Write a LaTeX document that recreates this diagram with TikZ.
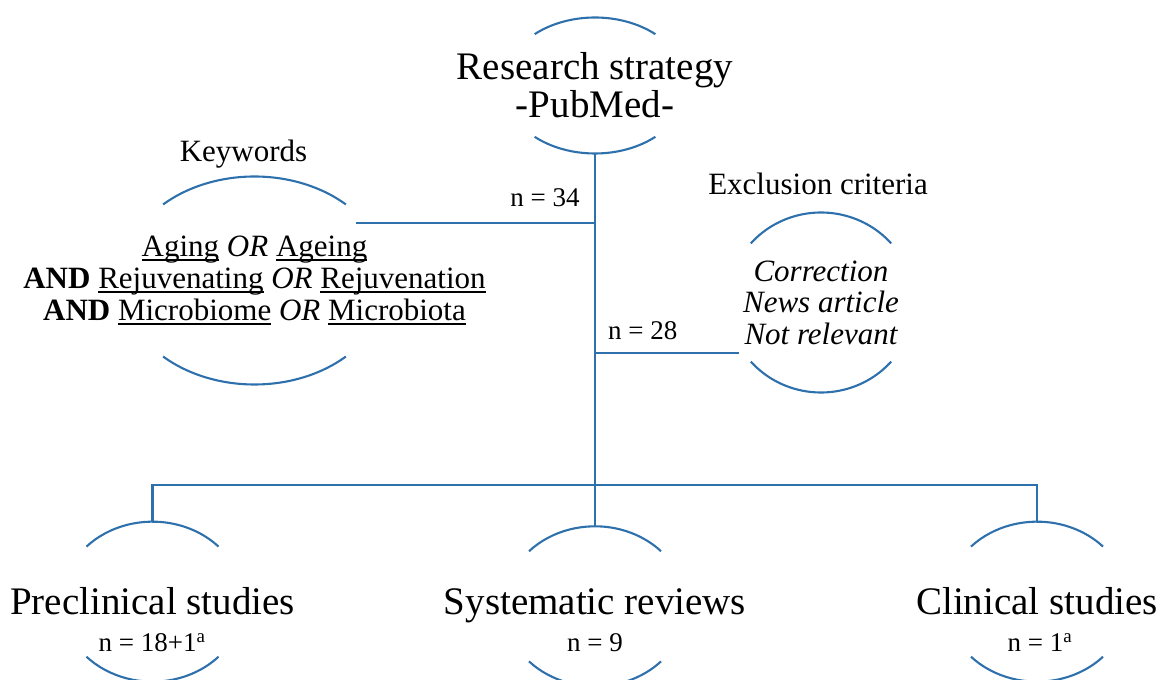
\documentclass[tikz,border=0pt]{standalone}
\usepackage{fontspec}
\setmainfont{Liberation Serif}
\usepackage{tikz}

\definecolor{capblue}{RGB}{46,112,172}

\newlength\uwordlen
\newcommand\uword[1]{\settowidth\uwordlen{#1}\rlap{\rule[-3.8pt]{\uwordlen}{1.2pt}}#1}

\tikzset{
	capline/.style={draw=capblue, line width=2.1},
	bigtext/.style={font=\fontsize{39}{38}\selectfont, inner sep=0pt, align=center},
	midtext/.style={font=\fontsize{31}{32}\selectfont, inner sep=0pt, align=center},
	numtext/.style={font=\fontsize{27}{28}\selectfont, inner sep=0pt, anchor=base},
}

% archi sopra e sotto un nodo: nome, raggio x, raggio y, angolo
\newcommand\caparcs[4]{%
	\draw[capline, shift={(#1.center)}] (180-#4:#2 and #3) arc[start angle=180-#4, end angle=#4, x radius=#2, y radius=#3];
	\draw[capline, shift={(#1.center)}] (180+#4:#2 and #3) arc[start angle=180+#4, end angle=360-#4, x radius=#2, y radius=#3];
	\path (#1.center) ++(0,#3) coordinate (#1-top);
	\path (#1.center) ++(0,-#3) coordinate (#1-bot);
}

\begin{document}
\begin{tikzpicture}[x=1pt, y=1pt]
			\useasboundingbox (0,0) rectangle (1160,680);
			\begin{scope}
				% strategia
				\node[bigtext] (strat) at (595,594.5) {Research strategy\\-PubMed-};
				\caparcs{strat}{92}{68}{49}

				% parole chiave
				\node[midtext, anchor=base] (kwtitle) at (243.5,518) {Keywords};
				\node[midtext] (kw) at (254.5,399.5) {\uword{Aging} \textit{OR} \uword{Ageing}\\
					\textbf{AND} \uword{Rejuvenating} \textit{OR} \uword{Rejuvenation}\\
					\textbf{AND} \uword{Microbiome} \textit{OR} \uword{Microbiota}};
				\caparcs{kw}{134}{104}{47}

				% criteri di esclusione
				\node[midtext, anchor=base] (extitle) at (818,485) {Exclusion criteria};
				\node[midtext, font=\fontsize{31}{31.5}\selectfont\itshape] (excl) at (821,377.5) {Correction\\News article\\Not relevant};
				\caparcs{excl}{93}{90}{41}

				% risultati
				\node[bigtext, anchor=base] (pre) at (152.5,65) {Preclinical studies};
				\node[numtext] (prenum) at (152,28) {n = 18+1\textsuperscript{a}};
				\caparcs{pre}{91}{80}{43.5}

				\node[bigtext, anchor=base] (sys) at (595,65) {Systematic reviews};
				\node[numtext] (sysnum) at (595,28) {n = 9};
				\caparcs{sys}{91}{80}{43.5}

				\node[bigtext, anchor=base] (clin) at (1037,65) {Clinical studies};
				\node[numtext] (clinnum) at (1040,28) {n = 1\textsuperscript{a}};
				\caparcs{clin}{91}{80}{43.5}

				% collegamenti
				\coordinate (kwend) at (356,457);
				\coordinate (exend) at (739,327);
				\coordinate (bus) at (595,195);
				\draw[capline] (strat-bot) -- (sys-top);
				\draw[capline] (kwend) -- (kwend -| strat-bot);
				\draw[capline] (exend -| strat-bot) -- (exend);
				\draw[capline] (pre-top) |- (bus) -| (clin-top);

				\node[numtext] (kwnum) at (545,473) {n = 34};
				\node[numtext, anchor=base west] (exnum) at (608,340) {n = 28};
			\end{scope}
		\end{tikzpicture}
\end{document}
